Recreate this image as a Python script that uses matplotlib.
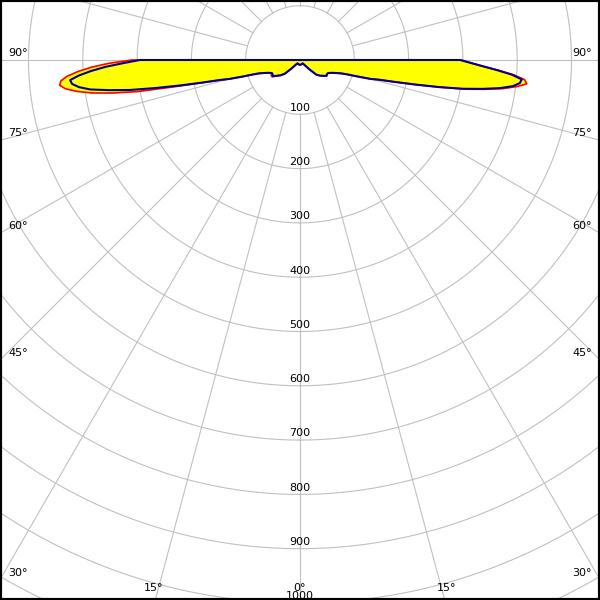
import numpy as np
import matplotlib
matplotlib.use("Agg")
import matplotlib.pyplot as plt
from matplotlib.patches import Rectangle

# angles from nadir (deg), same set used for both halves
half_ang = [0, 15, 30, 38, 42, 45, 48, 52, 56, 59, 62, 65, 68, 70, 72, 73, 74, 75,
            76, 77, 78, 79, 80, 81, 82, 83, 84, 85, 86, 87, 88, 89, 90]

# luminous intensity, cd (blue curve)
blue_right = [9, 8.5, 8, 8, 12, 24, 40, 47, 52, 57, 56, 57, 63, 70, 80, 90, 110, 135,
              150, 180, 218, 262, 305, 340, 372, 395, 407, 410, 392, 365, 338, 315, 295]
blue_left = [9, 8.5, 7.5, 8, 12, 22, 38, 46, 52, 58, 57, 57, 63, 70, 80, 92, 112, 135,
             152, 185, 225, 270, 318, 355, 390, 410, 422, 425, 408, 385, 358, 325, 295]

# red curve (filled yellow)
red_right = [9, 8.5, 8, 8, 12, 24, 40, 47, 52, 57, 56, 57, 63, 70, 80, 90, 110, 135,
             150, 180, 218, 262, 310, 345, 378, 402, 420, 415, 395, 367, 338, 315, 297]
red_left = [9, 8.5, 7.5, 8, 12, 22, 38, 46, 52, 60, 60, 58, 63, 70, 80, 92, 112, 135,
            155, 188, 238, 305, 350, 388, 415, 435, 445, 442, 430, 410, 385, 352, 310]

rings = [100, 200, 300, 400, 500, 600, 700, 800, 900, 1000, 1100, 1200]
spokes = list(range(0, 360, 15))
side_labels = [90, 75, 60, 45, 30]
bottom_labels = [15, 0]


def closed(left, right):
    ang = [-a for a in half_ang[::-1]] + half_ang[1:]
    val = left[::-1] + right[1:]
    th = np.radians([-90] + ang + [90])
    r = [0] + val + [0]
    return th, r


px_per_cd = 0.543
W = 600.0
cx, cy = 300.0, 60.0
rmax = 1200
rad = rmax * px_per_cd / W

fig = plt.figure(figsize=(6, 6), dpi=100)
ax = fig.add_axes([cx / W - rad, 1 - cy / W - rad, 2 * rad, 2 * rad], projection="polar")
ax.set_theta_zero_location("S")
ax.set_theta_direction(1)
ax.set_ylim(0, rmax)
ax.grid(False)
ax.set_xticks([])
ax.set_yticks([])
ax.spines["polar"].set_visible(False)

gc = "#c0c0c0"
t = np.linspace(0, 2 * np.pi, 1441)
for r in rings:
    ax.plot(t, np.full_like(t, r), color=gc, lw=0.8, zorder=1)
for a in spokes:
    ax.plot([np.radians(a)] * 2, [100, rmax], color=gc, lw=0.8, zorder=1)
for r in rings[:10]:
    ax.text(0, r - 3, str(r), ha="center", va="bottom", fontsize=8, zorder=2)

th, r = closed(red_left, red_right)
ax.fill(th, r, color="#ffff00", zorder=3)
ax.plot(th, r, color="#ff0000", lw=1.2, zorder=4)
th, r = closed(blue_left, blue_right)
ax.plot(th, r, color="#0000a0", lw=1.5, zorder=5)

# angle labels where the spokes leave the frame
for a in side_labels:
    y = cy + (cx / np.tan(np.radians(a)) if a != 90 else 0) - 7
    fig.text(8 / W, 1 - y / W, f"{a}°", ha="left", va="center", fontsize=8)
    fig.text(1 - 8 / W, 1 - y / W, f"{a}°", ha="right", va="center", fontsize=8)
for a in bottom_labels:
    x = (W - cy) * np.tan(np.radians(a)) + (2 if a else 0)
    for s in ([-1, 1] if a else [1]):
        fig.text((cx + s * x) / W, 1 - 588 / W, f"{a}°", ha="center", va="center", fontsize=8)

fig.add_artist(Rectangle((0, 0), 1, 1, transform=fig.transFigure, fill=False,
                         edgecolor="black", linewidth=3, zorder=10))
fig.savefig("out.png", dpi=100)
